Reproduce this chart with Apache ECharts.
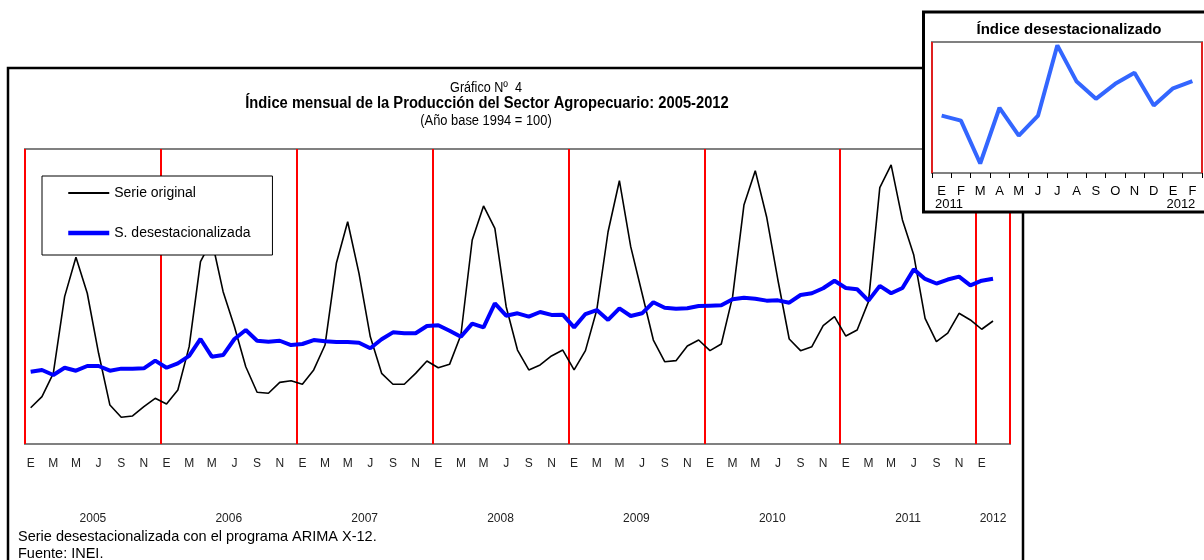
<!DOCTYPE html>
<html>
<head>
<meta charset="utf-8">
<script src="https://cdn.jsdelivr.net/npm/echarts@6/dist/echarts.min.js"></script>
<style>
  html, body { margin: 0; padding: 0; background: #fff; }
  #chart { width: 1204px; height: 560px; }
</style>
</head>
<body>
<div id="chart"></div>
<script>
// datos (índice 1994 = 100), ene 2005 - feb 2012
const monthLetters = ['E', 'F', 'M', 'A', 'M', 'J', 'J', 'A', 'S', 'O', 'N', 'D'];
const years = [2005, 2006, 2007, 2008, 2009, 2010, 2011, 2012];

const serieOriginal = [
  124.6, 132.1, 147.9, 199.9, 226.6, 202.2, 161.5, 126.4, 118.1, 119.0, 125.3, 131.0,
  127.1, 136.6, 166.0, 223.6, 238.3, 203.3, 179.5, 152.4, 135.1, 134.4, 141.8, 142.9,
  140.5, 150.2, 167.1, 222.5, 250.7, 215.7, 172.7, 147.9, 140.5, 140.5, 147.9, 156.3,
  151.7, 154.0, 173.9, 238.3, 261.4, 246.2, 193.1, 163.7, 150.2, 153.6, 159.7, 163.7,
  150.2, 163.3, 190.8, 243.9, 278.5, 233.8, 202.2, 170.5, 155.8, 156.5, 166.4, 170.5,
  163.3, 167.8, 199.9, 262.0, 285.3, 254.1, 211.2, 171.2, 163.3, 166.0, 180.2, 186.3,
  173.2, 177.3, 196.5, 273.8, 289.2, 251.9, 228.1, 185.2, 169.4, 175.1, 188.6, 184.1,
  177.8, 183.4
];

const serieDesest = [
  149.0, 150.2, 146.8, 151.7, 149.7, 152.9, 152.9, 149.7, 151.1, 151.1, 151.3, 156.5,
  151.7, 154.7, 159.7, 171.2, 159.2, 160.3, 171.2, 177.3, 170.0, 169.4, 170.0, 167.1,
  167.8, 170.5, 169.6, 169.2, 169.2, 168.7, 164.9, 171.0, 175.7, 175.1, 175.1, 180.0,
  180.5, 176.8, 172.7, 181.6, 179.1, 195.4, 187.0, 188.6, 186.3, 189.5, 187.5, 187.7,
  179.1, 188.1, 190.8, 184.1, 192.0, 186.8, 188.6, 196.1, 192.4, 191.7, 192.0, 193.6,
  193.8, 194.0, 198.1, 199.2, 198.5, 197.2, 197.4, 195.8, 201.0, 202.2, 205.6, 210.7,
  205.8, 204.9, 197.2, 207.2, 202.2, 205.8, 218.4, 211.9, 208.8, 211.5, 213.5, 207.6,
  210.7, 212.0
];

// categorias: ene 2005 .. mar 2012 (mar 2012 sin dato)
const categorias = [];
years.forEach(function (y) {
  monthLetters.forEach(function (m, i) {
    if (y < 2012 || i < 3) categorias.push(m + ' ' + y + ' ' + i);
  });
});

// recuadro: ultimos 14 meses
const insetCats = categorias.slice(72, 86);
const insetData = serieDesest.slice(72, 86);

const narrow = '"Liberation Sans Narrow", "Arial Narrow", "Liberation Sans", sans-serif';
const arial = '"Liberation Sans", Arial, sans-serif';

const chart = echarts.init(document.getElementById('chart'));

const option = {
  backgroundColor: '#fff',
  animation: false,
  textStyle: { fontFamily: arial },
  graphic: [
    {
      type: 'rect', z: 0,
      shape: { x: 8, y: 68, width: 1015, height: 520 },
      style: { fill: 'none', stroke: '#000', lineWidth: 2.5 }
    },
    {
      type: 'text', z: 1, x: 486, y: 88, scaleX: 0.9,
      style: { text: 'Gráfico Nº  4', font: '14px ' + narrow, fill: '#000', textAlign: 'center', textVerticalAlign: 'middle' }
    },
    {
      type: 'text', z: 1, x: 487, y: 104, scaleX: 0.92,
      style: { text: 'Índice mensual de la Producción del Sector Agropecuario: 2005-2012', font: 'bold 16px ' + narrow, fill: '#000', textAlign: 'center', textVerticalAlign: 'middle' }
    },
    {
      type: 'text', z: 1, x: 486, y: 121, scaleX: 0.92,
      style: { text: '(Año base 1994 = 100)', font: '14px ' + narrow, fill: '#000', textAlign: 'center', textVerticalAlign: 'middle' }
    },
    {
      type: 'text', z: 1, x: 18, y: 537,
      style: { text: 'Serie desestacionalizada con el programa ARIMA X-12.', font: '14.5px ' + arial, fill: '#000', textVerticalAlign: 'middle' }
    },
    {
      type: 'text', z: 1, x: 18, y: 554,
      style: { text: 'Fuente: INEI.', font: '14.5px ' + arial, fill: '#000', textVerticalAlign: 'middle' }
    },
    // marco del recuadro
    {
      type: 'rect', z: 3,
      shape: { x: 923.5, y: 12, width: 300, height: 200 },
      style: { fill: '#fff', stroke: '#000', lineWidth: 3 }
    },
    {
      type: 'text', z: 4, x: 1069, y: 30,
      style: { text: 'Índice desestacionalizado', font: 'bold 15px ' + arial, fill: '#000', textAlign: 'center', textVerticalAlign: 'middle' }
    }
  ],
  legend: {
    left: 42, top: 176,
    orient: 'vertical',
    backgroundColor: '#fff',
    borderColor: '#000', borderWidth: 1,
    padding: [10, 22, 15, 24],
    itemGap: 26, itemWidth: 41, itemHeight: 14,
    itemStyle: { opacity: 0 },
    textStyle: { fontSize: 14, color: '#000', fontFamily: arial },
    data: [
      { name: 'Serie original', lineStyle: { width: 2, color: '#000' } },
      { name: 'S. desestacionalizada', lineStyle: { width: 4.5, color: '#0000ff' } }
    ]
  },
  grid: [
    { left: 25, top: 149, width: 985, height: 295, show: true, borderColor: '#808080', borderWidth: 2, backgroundColor: 'transparent' },
    { left: 932, top: 42, width: 270, height: 131, show: true, borderColor: '#808080', borderWidth: 2, backgroundColor: 'transparent', z: 4 }
  ],
  xAxis: [
    {
      type: 'category', gridIndex: 0, data: categorias, boundaryGap: true,
      axisLine: { show: false }, axisTick: { show: false },
      axisLabel: {
        interval: function (i) { return i % 2 === 0 && i < 86; },
        formatter: function (v) { return v.charAt(0); },
        margin: 14, fontSize: 12, color: '#222', fontFamily: narrow
      },
      splitLine: {
        show: true,
        interval: function (i) { return i % 12 === 0; },
        lineStyle: { color: '#ff0000', width: 2 }
      }
    },
    {
      type: 'value', gridIndex: 0, min: 0, max: 87, position: 'bottom', offset: 59,
      axisLine: { show: false }, axisTick: { show: false }, splitLine: { show: false },
      axisLabel: {
        customValues: [6, 18, 30, 42, 54, 66, 78, 85.5],
        formatter: function (v) { return String(years[Math.floor(v / 12)]); },
        margin: 10, fontSize: 12, color: '#222', fontFamily: narrow
      }
    },
    {
      type: 'category', gridIndex: 1, data: insetCats, boundaryGap: true, z: 4,
      axisLine: { show: false },
      axisTick: { show: true, length: 5, lineStyle: { color: '#000', width: 1 } },
      axisLabel: {
        interval: 0,
        formatter: function (v) { return v.charAt(0); },
        margin: 12, fontSize: 13, color: '#000', fontFamily: arial
      },
      splitLine: {
        show: true,
        interval: function (i) { return i === 12; },
        lineStyle: { color: '#ff0000', width: 1.5 }
      }
    },
    {
      type: 'value', gridIndex: 1, min: 0, max: 14, position: 'bottom', offset: 10, z: 4,
      axisLine: { show: false }, axisTick: { show: false }, splitLine: { show: false },
      axisLabel: {
        customValues: [0, 12],
        showMinLabel: true,
        align: 'left',
        padding: [0, 0, 0, 3],
        formatter: function (v) { return v < 6 ? '2011' : '2012'; },
        margin: 15, fontSize: 13, color: '#000', fontFamily: arial
      }
    }
  ],
  yAxis: [
    { type: 'value', gridIndex: 0, min: 100, max: 300, show: false },
    { type: 'value', gridIndex: 1, min: 195.5, max: 219, show: false }
  ],
  series: [
    {
      name: 'Serie original', type: 'line', xAxisIndex: 0, yAxisIndex: 0,
      data: serieOriginal, symbol: 'none', z: 2,
      lineStyle: { color: '#000', width: 1.6 }, itemStyle: { color: '#000' }
    },
    {
      name: 'S. desestacionalizada', type: 'line', xAxisIndex: 0, yAxisIndex: 0,
      data: serieDesest, symbol: 'none', z: 3,
      lineStyle: { color: '#0000ff', width: 4 }, itemStyle: { color: '#0000ff' }
    },
    {
      name: 'recuadro', type: 'line', xAxisIndex: 2, yAxisIndex: 1,
      data: insetData, symbol: 'none', z: 6, clip: false,
      lineStyle: { color: '#3366ff', width: 4 }, itemStyle: { color: '#3366ff' }
    }
  ]
};

chart.setOption(option);
</script>
</body>
</html>
